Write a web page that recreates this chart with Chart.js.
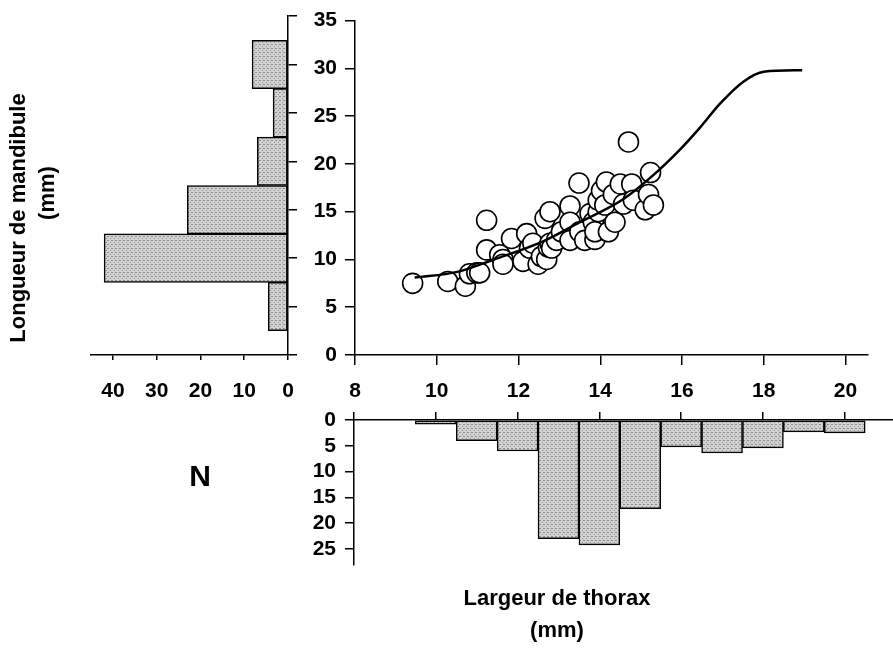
<!DOCTYPE html>
<html>
<head>
<meta charset="utf-8">
<script src="https://cdn.jsdelivr.net/npm/chart.js@4.4.1/dist/chart.umd.min.js"></script>
<style>
  body { margin: 0; background: #fff; }
  #wrap { position: relative; width: 893px; height: 648px; overflow: hidden; font-family: "Liberation Sans", Arial, sans-serif; font-weight: bold; color: #000; }
  #wrap canvas { position: absolute; left: 0; top: 0; }
  .lbl { position: absolute; white-space: nowrap; font-size: 22px; text-align: center; }
</style>
</head>
<body>
<div id="wrap">
  <canvas id="scatterChart" width="893" height="648"></canvas>
  <canvas id="leftHist" width="893" height="648"></canvas>
  <canvas id="bottomHist" width="893" height="648"></canvas>
  <div class="lbl" id="yTitle" style="left:-132px; top:205px; width:300px; transform:rotate(-90deg);">Longueur de mandibule</div>
  <div class="lbl" id="yUnit" style="left:-3px; top:180px; width:100px; transform:rotate(-90deg);">(mm)</div>
  <div class="lbl" style="left:150px; top:459px; width:100px; font-size:30px;">N</div>
  <div class="lbl" style="left:407px; top:585px; width:300px;">Largeur de thorax</div>
  <div class="lbl" style="left:407px; top:617px; width:300px;">(mm)</div>
</div>
<script>
// thorax width (mm) vs mandible length (mm), one point per individual
const thoraxX = [9.41, 10.27, 10.7, 10.8, 10.98, 11.05, 11.22, 11.22, 11.54, 11.62, 11.62, 11.83,
  12.11, 12.2, 12.27, 12.35, 12.48, 12.56, 12.69, 12.73, 12.77, 12.65, 12.77, 12.81, 12.93,
  13.05, 13.26, 13.26, 13.26, 13.48, 13.5, 13.62, 13.75, 13.83, 13.87, 13.87, 13.95, 13.95,
  14.03, 14.15, 14.11, 14.2, 14.36, 14.32, 14.49, 14.57, 14.69, 14.77, 14.81, 15.1, 15.18,
  15.23, 15.3];
const mandibleY = [7.5, 7.7, 7.2, 8.5, 8.6, 8.6, 11.0, 14.1, 10.5, 10.0, 9.5, 12.2,
  9.8, 12.7, 11.2, 11.7, 9.5, 10.3, 10.0, 11.3, 11.7, 14.3, 15.0, 11.2, 12.0,
  12.9, 15.6, 13.9, 12.0, 18.0, 12.9, 12.0, 14.8, 13.9, 12.1, 12.9, 15.0, 16.2,
  17.2, 18.1, 15.7, 12.9, 13.9, 16.8, 17.9, 15.8, 22.3, 17.9, 16.2, 15.2, 16.8,
  19.1, 15.7];

// fitted growth curve
const curveX = [9.46, 10.5, 11.4, 12.6, 13.5, 14.56, 15.29, 15.95, 16.44, 16.93, 17.5, 18.0, 18.94];
const curveY = [8.1, 8.7, 10.0, 11.9, 13.9, 16.3, 18.8, 21.5, 23.8, 26.3, 28.6, 29.65, 29.8];

// mandible length histogram (class centres, counts)
const mandBins = [5, 10, 15, 20, 25, 30];
const mandCounts = [4.5, 42, 23, 7, 3.4, 8.2];

// thorax width histogram (class centres, counts)
const thoraxBins = [10, 11, 12, 13, 14, 15, 16, 17, 18, 19, 20];
const thoraxCounts = [0.8, 4, 6, 23, 24.2, 17.2, 5.2, 6.4, 5.4, 2.3, 2.5];

Chart.defaults.font.family = '"Liberation Sans", Arial, sans-serif';
Chart.defaults.font.weight = 'bold';
Chart.defaults.font.size = 21;
Chart.defaults.color = '#000';
Chart.defaults.animation = false;
Chart.defaults.plugins.legend.display = false;
Chart.defaults.plugins.tooltip.enabled = false;

// stippled grey like the printed figure
function stipple() {
    const c = document.createElement('canvas');
    c.width = 4; c.height = 4;
    const g = c.getContext('2d');
    g.fillStyle = '#d2d2d2';
    g.fillRect(0, 0, 4, 4);
    g.fillStyle = '#8c8c8c';
    g.fillRect(0, 0, 1, 1);
    g.fillRect(2, 2, 1, 1);
    g.fillRect(3, 0, 1, 1);
    return g.createPattern(c, 'repeat');
}
const HIST_FILL = stipple();

function axisGrid(len) {
    return { drawOnChartArea: false, drawTicks: true, tickLength: len, color: '#000', lineWidth: 1.5, offset: false };
}
const axisBorder = { display: true, color: '#000', width: 1.5 };

// 1. scatter + curve
new Chart(document.getElementById('scatterChart'), {
    type: 'scatter',
    data: {
        datasets: [
            {
                type: 'line',
                data: curveX.map((x, i) => ({ x: x, y: curveY[i] })),
                borderColor: '#000',
                borderWidth: 2.5,
                pointRadius: 0,
                fill: false,
                cubicInterpolationMode: 'monotone'
            },
            {
                data: thoraxX.map((x, i) => ({ x: x, y: mandibleY[i] })),
                pointRadius: 10,
                pointBorderWidth: 1.6,
                pointBorderColor: '#000',
                pointBackgroundColor: '#fff'
            }
        ]
    },
    options: {
        responsive: false,
        devicePixelRatio: 1,
        layout: { padding: { left: 295, right: 25, top: 16, bottom: 243 } },
        scales: {
            x: {
                type: 'linear', min: 8, max: 20.55,
                afterFit: s => { s.height = 50; },
                border: axisBorder,
                grid: axisGrid(10),
                ticks: { stepSize: 2, includeBounds: false, padding: 14, maxRotation: 0 }
            },
            y: {
                type: 'linear', min: 0, max: 35,
                afterFit: s => { s.width = 60; },
                border: axisBorder,
                grid: axisGrid(10),
                ticks: { stepSize: 5, padding: 8 }
            }
        }
    }
});

// 2. mandible histogram, bars growing to the left
new Chart(document.getElementById('leftHist'), {
    type: 'bar',
    data: {
        datasets: [{
            data: mandBins.map((b, i) => ({ x: mandCounts[i], y: b })),
            backgroundColor: HIST_FILL,
            borderColor: '#000',
            borderWidth: 1.5,
            borderSkipped: false,
            barPercentage: 1,
            categoryPercentage: 1
        }]
    },
    options: {
        indexAxis: 'y',
        responsive: false,
        devicePixelRatio: 1,
        layout: { padding: { left: 91, right: 585, top: 16, bottom: 243 } },
        scales: {
            x: {
                type: 'linear', min: 0, max: 45, reverse: true,
                afterFit: s => { s.height = 50; },
                border: axisBorder,
                grid: axisGrid(5),
                ticks: { stepSize: 10, includeBounds: false, padding: 19, maxRotation: 0 }
            },
            y: {
                type: 'linear', min: 0, max: 35, position: 'right', offset: false,
                afterFit: s => { s.width = 20; },
                border: axisBorder,
                grid: axisGrid(9),
                ticks: { stepSize: 5, display: false }
            }
        }
    }
});

// 3. thorax histogram, bars hanging down
new Chart(document.getElementById('bottomHist'), {
    type: 'bar',
    data: {
        datasets: [{
            data: thoraxBins.map((b, i) => ({ x: b, y: thoraxCounts[i] })),
            backgroundColor: HIST_FILL,
            borderColor: '#000',
            borderWidth: 1.5,
            borderSkipped: false,
            barPercentage: 1,
            categoryPercentage: 1
        }]
    },
    options: {
        responsive: false,
        devicePixelRatio: 1,
        layout: { padding: { left: 294, right: 0, top: 410, bottom: 83 } },
        scales: {
            x: {
                type: 'linear', min: 8, max: 21.18, position: 'top', offset: false,
                afterFit: s => { s.height = 10; },
                border: axisBorder,
                grid: axisGrid(8),
                ticks: { stepSize: 2, includeBounds: false, display: false }
            },
            y: {
                type: 'linear', min: 0, max: 28.1, reverse: true,
                afterFit: s => { s.width = 60; },
                border: axisBorder,
                grid: axisGrid(9),
                ticks: { stepSize: 5, includeBounds: false, padding: 9 }
            }
        }
    }
});
</script>
</body>
</html>
